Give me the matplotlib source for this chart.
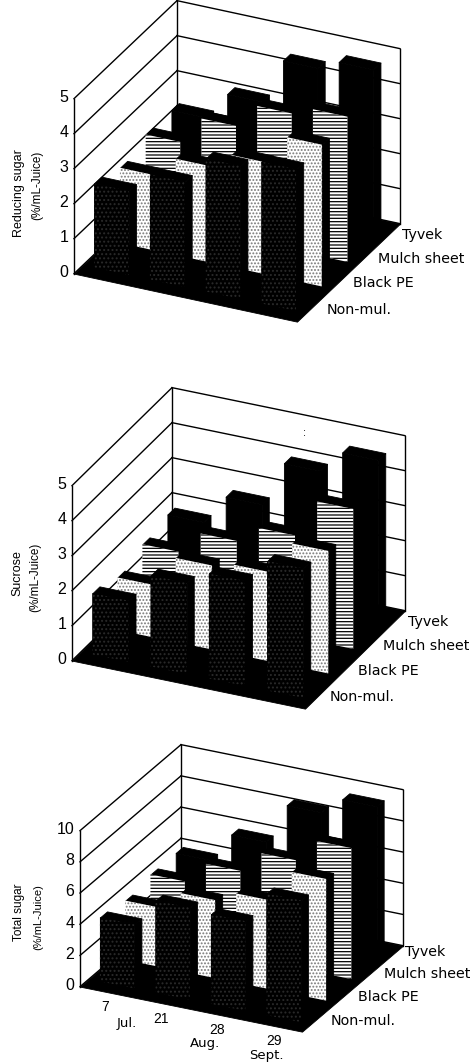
import math
import matplotlib
matplotlib.use("Agg")
import matplotlib.pyplot as plt
from mpl_toolkits.mplot3d import proj3d
from mpl_toolkits.mplot3d.art3d import Poly3DCollection

plt.rcParams["font.family"] = ["Liberation Sans", "DejaVu Sans"]
plt.rcParams["hatch.linewidth"] = 0.9

W, H = 475, 1062

series = ["Non-mul.", "Black PE", "Mulch sheet", "Tyvek"]
dates = ["7", "21", "28", "29"]
months = ["Jul.", "Aug.", "Sept."]

# values, one list per treatment
reducing_non = [2.4, 3.0, 3.8, 4.05]
reducing_pe = [2.15, 2.75, 3.2, 4.05]
reducing_sheet = [2.4, 3.2, 3.9, 4.15]
reducing_tyvek = [2.4, 3.2, 4.5, 4.8]

sucrose_non = [1.75, 2.6, 3.0, 3.7]
sucrose_pe = [1.5, 2.4, 2.55, 3.5]
sucrose_sheet = [1.75, 2.4, 2.9, 4.0]
sucrose_tyvek = [1.9, 2.75, 4.05, 4.7]

total_non = [4.1, 5.9, 5.75, 7.8]
total_pe = [3.8, 5.0, 5.7, 7.8]
total_sheet = [4.1, 5.5, 6.9, 8.4]
total_tyvek = [4.1, 6.0, 8.6, 9.7]

reducing_ticks = [0, 1, 2, 3, 4, 5]
sucrose_ticks = [0, 1, 2, 3, 4, 5]
total_ticks = [0, 2, 4, 6, 8, 10]

S = 420  # axes size in pixels
BAR_X, BAR_W = 0.2, 0.62
BAR_Y, BAR_D = 0.35, 0.28


def face(ax, verts, color, order, hatch=None, hatch_color="black", lw=0):
    poly = Poly3DCollection([verts], facecolors=color, edgecolors=hatch_color,
                            linewidths=lw, hatch=hatch, zorder=order)
    ax.add_collection3d(poly, autolim=False)


def draw_bar(ax, i, j, h, order):
    x0, x1 = i + BAR_X, i + BAR_X + BAR_W
    y0, y1 = j + BAR_Y, j + BAR_Y + BAR_D
    front = [(x0, y0, 0), (x1, y0, 0), (x1, y0, h), (x0, y0, h)]
    side = [(x1, y0, 0), (x1, y1, 0), (x1, y1, h), (x1, y0, h)]
    top = [(x0, y0, h), (x1, y0, h), (x1, y1, h), (x0, y1, h)]
    # thin black edges hide the seams between the faces
    face(ax, side, "black", order, lw=0.6)
    face(ax, top, "black", order + 0.1, lw=0.6)
    if j == 0:
        face(ax, front, "black", order + 0.2, lw=0.6)
        face(ax, front, "black", order + 0.3, "....", "#2a2a2a")
    elif j == 1:
        face(ax, front, "white", order + 0.2, ".....", "#787878")
    elif j == 2:
        face(ax, front, "white", order + 0.2, "-----", "black")
    else:
        face(ax, front, "black", order + 0.2, lw=0.6)


def panel(a, b, c, z_px, ticks, values):
    # a, b, c are the floor corners in pixels: front left, front right, back right
    xv = (b[0] - a[0], b[1] - a[1])
    yv = (c[0] - b[0], b[1] - c[1])
    r1, r2 = xv[1] / xv[0], yv[1] / yv[0]
    sin_e = math.sqrt(r1 * r2)
    theta = math.atan(r2 / sin_e)
    elev = math.degrees(math.asin(sin_e))
    lx = xv[0] / math.sin(theta)
    ly = yv[0] / math.cos(theta)
    lz = z_px / math.cos(math.radians(elev))
    zoom = math.sqrt(lx**2 + ly**2 + lz**2) * 1.85 / S / 1.9057

    cx = (a[0] + c[0]) / 2
    cy = (a[1] + c[1]) / 2 - z_px / 2 + 11
    frac = 0.095 / 0.185
    rect = [(cx - frac * S) / W, 1 - (cy + (1 - frac) * S) / H, S / W, S / H]
    ax = plt.gcf().add_axes(rect, projection="3d", proj_type="ortho")
    ax.patch.set_alpha(0)
    ax.computed_zorder = False
    ax.view_init(elev=elev, azim=-math.degrees(theta))
    ax.set_box_aspect((lx, ly, lz), zoom=zoom)
    ax.set_axis_off()

    n = 4
    top = ticks[-1]
    for t in ticks:
        ax.plot([0, 0], [0, n], [t, t], color="black", lw=1.0, zorder=1)
        ax.plot([0, n], [n, n], [t, t], color="black", lw=1.0, zorder=1)
    for x, y in [(0, 0), (0, n), (n, n)]:
        ax.plot([x, x], [y, y], [0, top], color="black", lw=1.0, zorder=1)
    face(ax, [(0, 0, 0), (n, 0, 0), (n, n, 0), (0, n, 0)], "black", 2, lw=0.6)

    order = 3
    for j in range(3, -1, -1):
        for i in range(4):
            draw_bar(ax, i, j, values[j][i], order)
            order += 1

    ax.set_xlim(0, n, view_margin=0)
    ax.set_ylim(0, n, view_margin=0)
    ax.set_zlim(0, top, view_margin=0)

    proj = ax.get_proj()
    for t in ticks:
        px, py, _ = proj3d.proj_transform(-0.1, 0, t, proj)
        ax.text2D(px, py, str(t), transform=ax.transData, ha="right",
                  va="center", fontsize=11.5)
    return ax


def label(x, y, s, size=11, **kw):
    kw.setdefault("ha", "center")
    kw.setdefault("va", "center")
    plt.gcf().text(x / W, 1 - y / H, s, fontsize=size, **kw)


def main():
    fig = plt.figure(figsize=(W / 100, H / 100), dpi=100)

    panel((74, 274), (297, 322), (400, 224), 175, reducing_ticks,
          [reducing_non, reducing_pe, reducing_sheet, reducing_tyvek])
    panel((72, 661), (305, 709), (405, 611), 175, sucrose_ticks,
          [sucrose_non, sucrose_pe, sucrose_sheet, sucrose_tyvek])
    panel((80, 987), (302, 1032), (403, 946), 156, total_ticks,
          [total_non, total_pe, total_sheet, total_tyvek])

    # treatment names next to the depth axis
    spots = [
        [(359, 310), (383, 283), (421, 259), (422, 235)],
        [(362, 697), (388, 671), (426, 646), (428, 622)],
        [(363, 1021), (388, 997), (427, 974), (425, 952)],
    ]
    for row in spots:
        for name, (x, y) in zip(series, row):
            label(x, y, name, 10.3, family="DejaVu Sans")

    label(19, 193, "Reducing sugar", 9, rotation=90)
    label(37, 185, "(%/mL-Juice)", 8.5, rotation=90)
    label(17, 573, "Sucrose", 9, rotation=90)
    label(35, 577, "(%/mL-Juice)", 8.5, rotation=90)
    label(19, 912, "Total sugar", 8.5, rotation=90)
    label(38, 917, "(%/mL-Juice)", 8, rotation=90)

    for name, (x, y) in zip(dates, [(105, 1007), (161, 1019), (217, 1030), (274, 1041)]):
        label(x, y, name, 10)
    for name, (x, y) in zip(months, [(127, 1024), (205, 1043), (266, 1056)]):
        label(x, y, name, 9.5, family="DejaVu Sans")
    label(305, 433, ":", 8)

    fig.savefig("out.png", dpi=100)


if __name__ == "__main__":
    main()
